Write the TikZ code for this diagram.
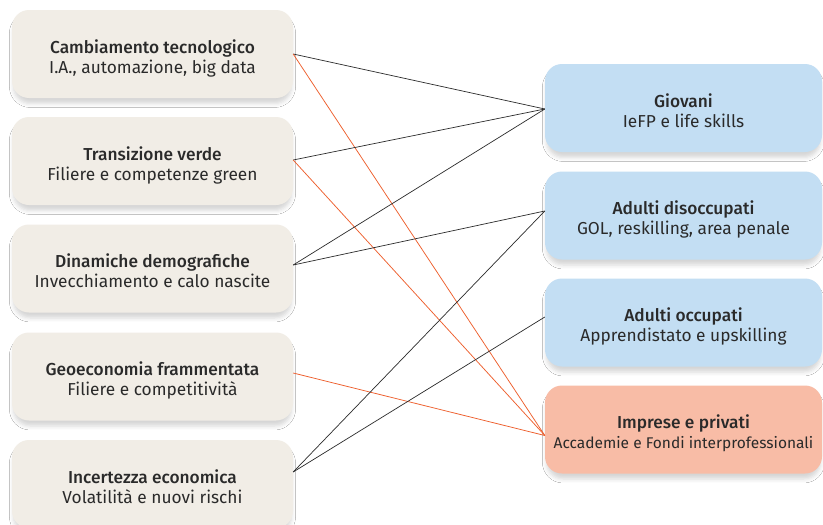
\documentclass[tikz,border=0pt]{standalone}
\usepackage{fontspec}
\setmainfont{Fira Sans}[BoldFont={Fira Sans Medium}]
\usetikzlibrary{shadows.blur}
\definecolor{beige}{HTML}{F1EDE6}
\definecolor{skyb}{HTML}{C3DEF3}
\definecolor{salmon}{HTML}{F8BCA6}
\definecolor{txt}{HTML}{2A2A2A}
\definecolor{blk}{HTML}{2B2B2B}
\definecolor{org}{HTML}{EE5F2D}
\newcommand{\subsmall}{\fontsize{15.5}{20}\selectfont}
\tikzset{
  card/.style={rounded corners=17pt, minimum height=88pt, align=center,
    text=txt, font=\fontsize{17.3}{20}\selectfont, inner sep=0pt,
    text height=44pt, text depth=6pt,
    blur shadow={shadow xshift=0pt, shadow yshift=-6pt, shadow blur radius=4pt, shadow opacity=16, shadow scale=0.99}},
  leftcard/.style={card, fill=beige, minimum width=281pt},
  rightcard/.style={card, minimum width=277pt},
  blkline/.style={draw=blk, line width=0.7pt},
  orgline/.style={draw=org, line width=0.75pt}
}
\begin{document}
\begin{tikzpicture}[x=1pt,y=1pt]
\useasboundingbox[fill=white] (0,0) rectangle (823,-525);
% left cards
\node[leftcard] (l1) at (152.5,-54) {\textbf{Cambiamento tecnologico}\\I.A., automazione, big data};
\node[leftcard] (l2) at (152.5,-161) {\textbf{Transizione verde}\\Filiere e competenze green};
\node[leftcard] (l3) at (152.5,-268.5) {\textbf{Dinamiche demografiche}\\Invecchiamento e calo nascite};
\node[leftcard] (l4) at (152.5,-376.5) {\textbf{Geoeconomia frammentata}\\Filiere e competitività};
\node[leftcard] (l5) at (152.5,-484) {\textbf{Incertezza economica}\\Volatilità e nuovi rischi};
% right cards
\node[rightcard, fill=skyb] (r1) at (683.5,-108) {\textbf{Giovani}\\IeFP e life skills};
\node[rightcard, fill=skyb] (r2) at (683.5,-215.5) {\textbf{Adulti disoccupati}\\GOL, reskilling, area penale};
\node[rightcard, fill=skyb] (r3) at (683.5,-322.5) {\textbf{Adulti occupati}\\Apprendistato e upskilling};
\node[rightcard, fill=salmon] (r4) at (683.5,-429.5) {\textbf{Imprese e privati}\\{\subsmall Accademie e Fondi interprofessionali}};
% connectors
\draw[blkline] (l1.east) -- ([yshift=-1pt]r1.west);
\draw[orgline] (l1.east) -- ([yshift=-6pt]r4.west);
\draw[blkline] ([yshift=1pt]l2.east) -- ([yshift=-1pt]r1.west);
\draw[orgline] ([yshift=1pt]l2.east) -- ([yshift=-6pt]r4.west);
\draw[blkline] ([yshift=3.5pt]l3.east) -- ([yshift=-1pt]r1.west);
\draw[blkline] ([yshift=3.5pt]l3.east) -- ([yshift=4.5pt]r2.west);
\draw[orgline] ([yshift=3.5pt]l4.east) -- ([yshift=-6pt]r4.west);
\draw[blkline] ([yshift=12pt]l5.east) -- ([yshift=4.5pt]r2.west);
\draw[blkline] ([yshift=12pt]l5.east) -- ([yshift=5.5pt]r3.west);
\end{tikzpicture}
\end{document}
